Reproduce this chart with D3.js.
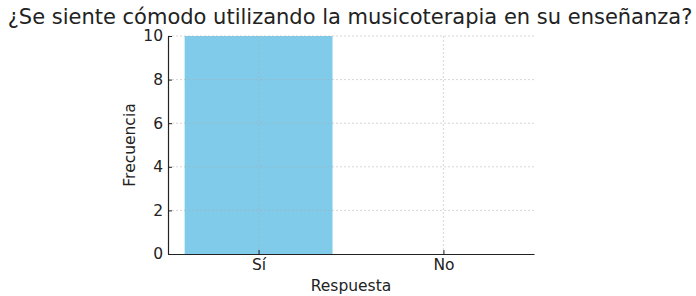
<!DOCTYPE html>
<html><head><meta charset="utf-8">
<script src="https://cdn.jsdelivr.net/npm/d3@7"></script>
<style>body{margin:0;background:#fff}svg{display:block}text{font-family:"DejaVu Sans",sans-serif;fill:#222}</style>
</head><body>
<script>
const categories = ["Sí", "No"];
const values = [10, 0];
const yTicks = [0, 2, 4, 6, 8, 10];
const title = "¿Se siente cómodo utilizando la musicoterapia en su enseñanza?";
const xLabel = "Respuesta";
const yLabel = "Frecuencia";

const W = 696, H = 296;
const m = {left: 168, right: 162, top: 36, bottom: 42};
const svg = d3.select("body").append("svg").attr("width", W).attr("height", H);
const iw = W - m.left - m.right, ih = H - m.top - m.bottom;
const g = svg.append("g").attr("transform", `translate(${m.left},${m.top})`);

const x = d3.scaleLinear().domain([-0.49, categories.length - 1 + 0.49]).range([0, iw]);
const y = d3.scaleLinear().domain([0, 10]).range([ih, 0]);
const bw = 0.8;

g.selectAll("rect.bar").data(values).join("rect").attr("class", "bar")
  .attr("x", (d, i) => x(i - bw / 2)).attr("width", x(bw) - x(0))
  .attr("y", d => y(d)).attr("height", d => y(0) - y(d))
  .attr("fill", "#7fcbe9");

// grid
g.selectAll("line.hg").data(yTicks.filter(t => t > 0)).join("line").attr("class", "hg")
  .attr("x1", 0).attr("x2", iw).attr("y1", d => y(d)).attr("y2", d => y(d))
  .attr("stroke", "#b0b0b0").attr("stroke-opacity", 0.5).attr("stroke-dasharray", "2,2");
g.selectAll("line.vg").data(categories).join("line").attr("class", "vg")
  .attr("x1", (d, i) => x(i)).attr("x2", (d, i) => x(i)).attr("y1", 0).attr("y2", ih)
  .attr("stroke", "#b0b0b0").attr("stroke-opacity", 0.5).attr("stroke-dasharray", "2,2");

// axes
const ya = d3.axisLeft(y).tickValues(yTicks).tickSizeInner(-4).tickSizeOuter(0).tickPadding(5);
const yg = g.append("g").call(ya);
yg.select(".domain").attr("stroke", "#222").attr("stroke-width", 1.2);
yg.selectAll(".tick line").attr("stroke", "#222");
yg.selectAll("text").style("font-size", "15.5px").style("font-family", "DejaVu Sans").attr("fill", "#222");

const xa = d3.axisBottom(x).tickValues(categories.map((d, i) => i)).tickFormat(i => categories[i])
  .tickSizeInner(-4).tickSizeOuter(0).tickPadding(5);
const xg = g.append("g").attr("transform", `translate(0,${ih})`).call(xa);
xg.select(".domain").attr("stroke", "#222").attr("stroke-width", 1.2);
xg.selectAll(".tick line").attr("stroke", "#222");
xg.selectAll("text").style("font-size", "15.5px").style("font-family", "DejaVu Sans").attr("fill", "#222");

svg.append("text").attr("x", 350).attr("y", 24).attr("text-anchor", "middle")
  .style("font-size", "21px").text(title);
svg.append("text").attr("x", m.left + iw / 2).attr("y", 291).attr("text-anchor", "middle")
  .style("font-size", "15.5px").text(xLabel);
svg.append("text").attr("transform", `translate(135,${m.top + ih / 2}) rotate(-90)`).attr("text-anchor", "middle")
  .style("font-size", "15.5px").text(yLabel);
</script>
</body></html>
